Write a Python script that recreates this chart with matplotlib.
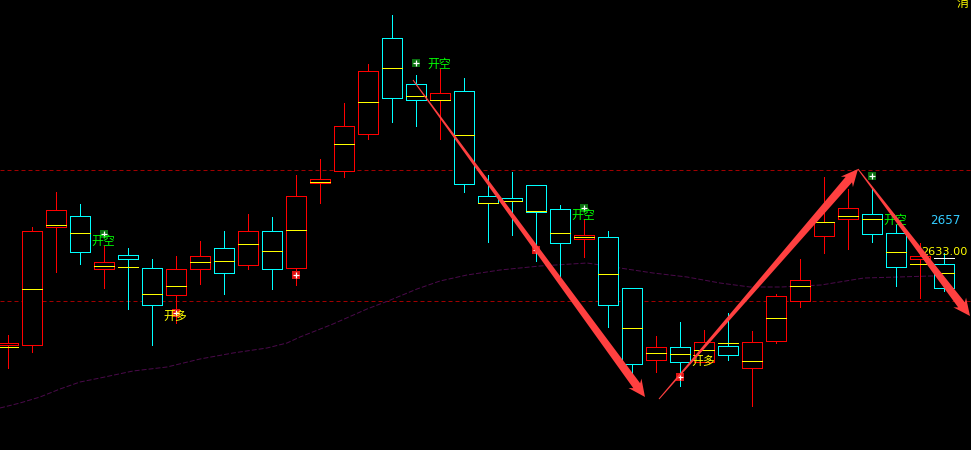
import matplotlib
matplotlib.use('Agg')
import matplotlib.pyplot as plt
import numpy as np
from matplotlib.patches import Polygon

plt.rcParams['font.family'] = ['Noto Sans CJK SC', 'DejaVu Sans']

# candles (y axis runs downwards)
highs = [335, 227, 192, 204, 246, 248, 259, 256, 241, 231, 214, 217, 175, 159, 103, 64, 15, 75, 69, 78,
         175, 172, 185, 205, 219, 231, 288, 336, 322, 330, 313, 331, 294, 259, 177, 189, 188, 225, 243, 253]
tops = [343, 231, 210, 216, 262, 255, 268, 269, 256, 248, 231, 231, 196, 179, 126, 71, 38, 84, 93, 91,
        196, 198, 185, 209, 235, 237, 288, 347, 347, 342, 346, 342, 296, 280, 222, 208, 214, 233, 256, 264]
bottoms = [345, 345, 227, 252, 269, 259, 305, 295, 269, 273, 265, 269, 268, 183, 171, 134, 98, 100, 100, 184,
           203, 201, 212, 243, 239, 305, 364, 360, 362, 362, 355, 368, 341, 301, 236, 219, 234, 267, 259, 288]
lows = [368, 352, 272, 264, 288, 309, 345, 323, 284, 294, 269, 289, 285, 203, 177, 139, 122, 126, 139, 192,
        242, 235, 261, 276, 257, 327, 380, 372, 386, 362, 360, 406, 343, 307, 253, 249, 242, 286, 298, 291]
mids = [347, 289, 225, 233, 266, 267, 294, 286, 262, 261, 244, 251, 230, 182, 144, 102, 68, 96, 100, 135,
        203, 201, 211, 233, 237, 274, 328, 353, 354, 350, 343, 361, 318, 286, 222, 216, 219, 252, 264, 273]
rising = [1, 1, 1, 0, 1, 0, 0, 1, 1, 0, 1, 0, 1, 1, 1, 1, 0, 0, 1, 0,
          0, 0, 0, 0, 1, 0, 0, 1, 0, 1, 0, 1, 1, 1, 1, 1, 0, 0, 1, 0]

# moving average
ma_x = [0, 20, 40, 60, 80, 100, 133, 167, 200, 233, 267, 287, 300, 333, 367, 388, 417, 440, 467, 500, 540, 587,
        620, 653, 687, 720, 750, 781, 821, 864, 898, 931, 955]
ma_y = [408, 403, 397, 389, 382, 378, 371, 367, 359, 353, 348, 343, 337, 324, 309, 301, 289, 281, 275, 270, 266, 263,
        268, 273, 277, 283, 287, 287, 285, 278, 277, 276, 276]

levels = [170, 301]

short_x = [104, 416, 584, 872]
short_y = [234, 63, 208, 176]
long_x = [176, 296, 536, 680]
long_y = [313, 275, 250, 377]

short_labels = [(92, 241), (428, 64), (572, 215), (884, 220)]
long_labels = [(164, 316), (692, 361)]

arrows = [((413, 80), (645, 397)), ((659, 399), (858, 169)), ((858, 169), (970, 316))]

RED = '#ff0000'
CYAN = '#00ffff'
YELLOW = '#ffff00'
PX = 0.72

x = 8 + 24 * np.arange(len(highs))
highs, tops, bottoms, lows, mids = map(np.array, (highs, tops, bottoms, lows, mids))
colors = [RED if r else CYAN for r in rising]

fig = plt.figure(figsize=(9.71, 4.5), dpi=100, facecolor='black')
ax = fig.add_axes([0, 0, 1, 1])
ax.set_xlim(0, 971)
ax.set_ylim(450, 0)
ax.axis('off')

for lv in levels:
    ax.axhline(lv, color='#a00000', lw=PX, ls=(0, (4, 3)), zorder=1)
ax.plot(ma_x, ma_y, color='#4a0a4a', lw=PX, ls=(0, (5, 2)), zorder=1)

ax.vlines(x, highs, tops, colors=colors, lw=PX, antialiased=False, zorder=2)
ax.vlines(x, bottoms, lows, colors=colors, lw=PX, antialiased=False, zorder=2)
ax.bar(x, bottoms - tops, bottom=tops, width=20, facecolor='black', edgecolor=colors, linewidth=PX,
       antialiased=False, zorder=3)
ax.hlines(mids, x - 10, x + 10, colors=YELLOW, lw=PX, antialiased=False, zorder=4)
ax.hlines(258, x[-1] - 10, x[-1] + 10, colors='white', lw=PX, antialiased=False, zorder=4)

ax.scatter(short_x, short_y, marker='s', s=32, color='#0a7010', linewidths=0, zorder=5)
ax.scatter(short_x, short_y, marker='+', s=16, color='white', linewidths=0.9, zorder=6)
ax.scatter(long_x, long_y, marker='s', s=32, color='#e01010', linewidths=0, zorder=5)
ax.scatter(long_x, long_y, marker='+', s=16, color='white', linewidths=0.9, zorder=6)

for tx, ty in short_labels:
    ax.text(tx - 1, ty, '开空', color='#00ff00', fontsize=8.6, va='center', ha='left', zorder=7)
for tx, ty in long_labels:
    ax.text(tx - 1, ty, '开多', color=YELLOW, fontsize=8.6, va='center', ha='left', zorder=7)

ax.text(930, 220, '2657', color='#33ccff', fontsize=8.6, va='center', ha='left', family='DejaVu Sans', zorder=7)
ax.text(921, 252, '2633.00', color=YELLOW, fontsize=8.1, va='center', ha='left', family='DejaVu Sans', zorder=7)
ax.text(957, 4, '消', color=YELLOW, fontsize=8.6, va='center', ha='left', zorder=7)


# tapered arrow: thin at the tail, swept-back head at the tip
def draw_arrow(start, end):
    p0, p1 = np.array(start, float), np.array(end, float)
    d = (p1 - p0) / np.hypot(*(p1 - p0))
    n = np.array([-d[1], d[0]])
    neck = p1 - d * 14
    barb = p1 - d * 17
    pts = [p0 - n * 0.5, neck - n * 4.2, barb - n * 8, p1, barb + n * 8, neck + n * 4.2, p0 + n * 0.5]
    ax.add_patch(Polygon(pts, closed=True, facecolor='#ff4040', edgecolor='none', zorder=8))


for a, b in arrows:
    draw_arrow(a, b)

fig.savefig('out.png', dpi=100, facecolor='black')
